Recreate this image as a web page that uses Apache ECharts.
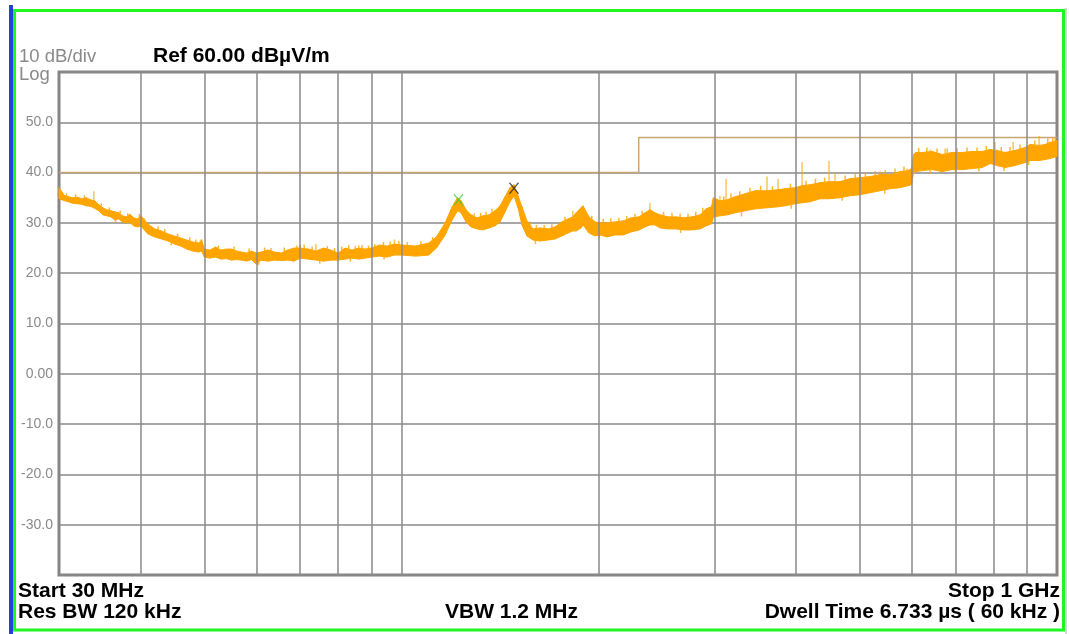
<!DOCTYPE html>
<html>
<head>
<meta charset="utf-8">
<script src="https://cdn.jsdelivr.net/npm/echarts@6/dist/echarts.min.js"></script>
<style>
  html, body { margin: 0; padding: 0; background: #fff; }
  #chart { width: 1069px; height: 634px; }
</style>
</head>
<body>
<div id="chart"></div>
<script>
// sweep points (MHz), with the low / high edge of the noisy band (dBµV/m)
const freqMHz = [
  30, 30.3, 30.6, 31, 31.5, 32, 32.5, 33, 33.5, 34, 34.5, 35, 35.5, 36, 36.5, 37, 37.5, 38, 38.5, 39, 39.5, 40,
  41, 42, 43, 44, 45, 46, 47, 48, 49, 49.5, 50,
  51, 52, 53, 54, 55, 56, 57, 58, 59, 60, 61, 62.5, 64, 65.5, 67, 68.5, 70, 72, 74, 76, 78, 80, 82, 84, 86, 88, 90, 92.5, 95, 97.5, 100,
  105, 110, 113, 116.5, 119.4, 121.7, 123.2, 125.4, 127.6, 130.3, 133.1, 135.9, 138.8, 141.3, 143.8, 146.3, 148.4, 150.5, 152.6, 155.3,
  158.6, 162.6, 167.3, 171.4, 175.6, 179.4, 182.5, 184.6, 187.8, 189.1, 193.1, 197.3, 200.8, 205.8, 211.7, 217.7, 223.9, 230.3, 235.2,
  239.3, 243.6, 247.9, 254.9, 262.2, 269.7, 277.4, 285.3, 291.4, 297, 299,
  306, 314, 322.7, 334.2, 346.2, 361, 375.3, 384.6, 398.4, 408.3, 420, 435, 448.9, 466.5, 483.3, 500.7, 518.7, 537.1, 556.3, 576, 592.5, 600,
  604, 609.3, 622.4, 644.8, 667.8, 691.6, 716.4, 742.1, 768.7, 790.4, 810, 833, 862.9, 894.4, 910, 939, 958.8, 975.9, 1000
];
const traceLow = [
  34.8, 34.6, 34.4, 34.2, 33.9, 33.8, 33.7, 33.4, 33.3, 32.9, 32.4, 31.6, 31.4, 31.2, 30.6, 30.8, 30.2, 30.0, 30.1, 29.4, 29.2, 29.4,
  27.8, 27.2, 26.8, 26.4, 25.8, 25.4, 24.8, 24.4, 24.2, 24.4, 23.2,
  23.0, 23.2, 22.8, 22.9, 22.6, 22.7, 22.6, 22.4, 22.7, 21.8, 22.6, 22.4, 22.6, 22.5, 22.6, 22.4, 23.0, 22.8, 22.6, 22.4, 22.6, 22.6, 22.8, 23.0, 22.8, 23.0, 23.2, 23.4, 23.2, 23.6, 23.6,
  23.4, 23.6, 25.0, 27.6, 30.6, 32.4, 32.0, 30.2, 29.2, 28.8, 28.6, 29.0, 29.4, 30.2, 32.2, 34.2, 35.4, 33.0, 29.6, 27.4,
  26.6, 26.4, 26.6, 26.8, 27.4, 28.0, 28.4, 28.4, 29.0, 29.6, 28.0, 27.4, 27.6, 27.2, 27.6, 27.6, 28.2, 28.6, 29.2,
  29.6, 29.6, 29.0, 28.8, 28.8, 28.6, 28.6, 28.8, 29.4, 29.8, 31.2,
  31.4, 31.6, 32.0, 32.4, 32.8, 33.0, 33.2, 33.4, 33.8, 34.0, 34.2, 34.8, 34.8, 35.0, 35.4, 35.6, 36.0, 36.4, 36.8, 37.0, 37.4, 37.6,
  40.0, 40.2, 40.4, 40.6, 40.2, 40.6, 40.6, 40.8, 41.0, 41.8, 41.4, 41.0, 41.4, 42.0, 42.4, 42.4, 42.6, 42.8, 43.2
];
const traceHigh = [
  37.0, 36.2, 35.4, 35.2, 35.0, 35.1, 34.8, 35.0, 34.6, 34.4, 33.6, 33.0, 32.6, 32.4, 32.2, 32.0, 31.4, 31.2, 31.7, 31.0, 30.8, 31.4,
  29.8, 28.8, 28.4, 27.8, 27.4, 27.0, 26.6, 26.2, 26.0, 26.6, 24.8,
  24.6, 25.2, 24.6, 24.8, 24.8, 24.4, 24.2, 24.0, 24.4, 24.0, 24.2, 24.6, 24.2, 24.0, 24.6, 25.0, 25.0, 24.8, 24.4, 25.0, 24.6, 24.0, 25.0, 24.6, 25.0, 24.8, 25.0, 25.6, 25.4, 25.8, 25.6,
  25.4, 26.0, 27.2, 30.0, 33.2, 35.0, 34.4, 32.6, 31.6, 31.0, 31.4, 31.6, 32.4, 33.4, 35.2, 37.0, 37.6, 35.4, 33.2, 30.4,
  28.8, 29.0, 28.8, 29.2, 30.2, 30.8, 31.2, 32.0, 33.0, 33.4, 31.2, 30.2, 30.0, 30.0, 30.2, 30.4, 31.0, 31.2, 32.0,
  32.6, 32.0, 31.6, 31.2, 31.2, 31.0, 31.2, 31.6, 32.8, 33.2, 35.0,
  34.4, 34.6, 35.2, 35.8, 36.4, 36.4, 36.6, 36.8, 37.0, 37.4, 37.6, 38.0, 38.2, 38.2, 38.8, 39.0, 39.2, 39.6, 39.6, 40.2, 40.4, 40.8,
  43.6, 44.0, 44.0, 44.2, 43.6, 44.0, 44.0, 44.2, 44.2, 44.6, 44.4, 44.0, 44.4, 45.0, 45.6, 45.4, 45.6, 46.0, 46.4
];

// tall narrow spikes standing out of the band
const spikeFreq = [33.9, 49.5, 70, 74, 86, 97.5, 182.5, 239.3, 306, 312.6, 361, 375.3, 408.3, 448.9, 458.5, 500.7, 537.1, 590.5, 640.3, 674.9, 804.4, 857.2, 939, 993.2];
const spikeBase = [34.4, 26.0, 25.0, 24.4, 25.0, 25.8, 31.2, 32.6, 34.4, 34.6, 36.4, 36.6, 37.4, 38.2, 38.2, 39.0, 39.6, 40.4, 44.2, 43.8, 44.4, 44.4, 45.4, 46.4];
const spikeTop = [36.3, 26.8, 25.6, 25.8, 25.6, 26.7, 32.4, 34.0, 35.4, 38.8, 39.2, 38.8, 42.1, 42.3, 40.0, 40.0, 40.2, 40.8, 44.6, 44.8, 46.1, 46.1, 47.3, 46.9];

// short noise ticks on the band edges (from -> to)
const fuzzFreq = [
  30.8, 31.8, 32.8, 34.8, 35.8, 36.6, 37.2, 38.2, 39.8, 40.5, 42.5, 43.5, 44.5, 45.5, 47.5, 48.5,
  52.5, 55.5, 58.5, 60.5, 61.8, 63.2, 66.2, 69.2, 71, 73, 75, 77, 79, 81, 83, 83.5, 85, 87, 89, 91, 93.8, 94, 96, 99,
  102, 107, 111.5, 129, 132, 134.5, 137.3, 157, 160, 160.5, 165, 169.5, 177.5, 195, 200, 203, 208.5, 214.5, 220.5, 227, 232.8,
  251, 258.5, 266, 266.5, 273.5, 281, 288,
  310, 318, 328, 330, 340, 353, 368, 392, 393, 414, 428, 442, 470, 475, 492, 510, 528, 546, 547, 566, 584,
  615, 633, 640, 656, 680, 700, 704, 729, 755, 760, 780, 822, 830, 848, 878, 905, 925, 968, 985
];
const fuzzFrom = [
  35.3, 35.0, 34.9, 33.2, 32.5, 30.8, 31.8, 31.3, 31.0, 30.2, 28.6, 28.1, 26.1, 27.2, 26.4, 26.1,
  24.9, 24.6, 24.2, 22.2, 24.4, 24.4, 24.3, 24.9, 25.0, 24.6, 22.5, 24.8, 24.4, 24.6, 24.8, 22.9, 24.8, 25.0, 24.9, 25.2, 25.5, 23.3, 25.6, 25.7,
  25.5, 25.6, 26.4, 31.2, 31.2, 31.5, 32.0, 29.6, 26.5, 28.9, 28.9, 29.0, 30.5, 30.6, 27.6, 30.0, 30.1, 30.3, 30.7, 31.1, 31.6,
  31.4, 31.2, 31.1, 28.7, 31.1, 31.4, 32.2,
  34.5, 34.9, 35.5, 32.1, 36.1, 36.4, 36.5, 36.9, 33.6, 37.5, 37.8, 38.1, 35.1, 38.5, 38.9, 39.1, 39.4, 36.6, 39.6, 39.9, 40.3,
  44.0, 44.1, 40.5, 43.9, 43.8, 40.6, 44.0, 44.1, 44.2, 40.9, 44.4, 44.2, 41.0, 44.2, 44.7, 42.2, 45.5, 45.8, 46.2
];
const fuzzTo = [
  35.9, 35.7, 35.5, 33.9, 33.1, 30.0, 32.4, 31.9, 31.8, 30.9, 29.3, 28.8, 25.5, 27.9, 27.1, 26.7,
  25.5, 25.3, 24.9, 21.6, 25.1, 25.0, 25.1, 25.5, 25.7, 25.3, 21.9, 25.4, 25.0, 25.3, 25.6, 22.3, 25.4, 25.6, 25.5, 25.8, 26.2, 22.7, 26.3, 26.4,
  26.2, 26.4, 27.2, 31.9, 32.0, 32.2, 32.8, 30.3, 25.8, 29.6, 29.6, 29.8, 31.2, 31.4, 26.9, 30.8, 30.9, 31.0, 31.4, 31.8, 32.4,
  32.2, 32.0, 31.8, 28.0, 31.8, 32.2, 33.0,
  35.3, 35.9, 36.3, 31.3, 37.0, 37.4, 37.3, 37.8, 32.8, 38.4, 38.8, 39.0, 34.4, 39.4, 39.8, 40.0, 40.3, 35.8, 40.5, 40.8, 41.2,
  44.9, 45.0, 39.7, 44.8, 44.8, 39.8, 44.9, 45.0, 45.0, 40.2, 45.3, 45.1, 40.3, 45.1, 45.6, 41.5, 46.4, 46.8, 47.0
];

// limit line
const limitFreq = [30, 230, 230, 1000];
const limitLevel = [40, 40, 47, 47];

// markers
const markerFreq = [122.1, 148.4];
const markerLevel = [34.6, 36.9];

// vertical graticule
const gridFreq = [40, 50, 60, 70, 80, 90, 100, 200, 300, 400, 500, 600, 700, 800, 900];

const orange = '#ffa500';
const font = '"Liberation Sans", Arial, sans-serif';

const chart = echarts.init(document.getElementById('chart'));

const txt = (text, x, y, size, color, bold, align) => ({
  type: 'text',
  x: x,
  y: y,
  silent: true,
  style: {
    text: text,
    fill: color,
    font: (bold ? 'bold ' : '') + size + 'px ' + font,
    textAlign: align || 'left',
    textVerticalAlign: 'middle'
  }
})

// each item is one piece of the band between two sweep points
const bandData = freqMHz.slice(0, -1).map((f, i) =>
  [f, traceLow[i], traceHigh[i], freqMHz[i + 1], traceLow[i + 1], traceHigh[i + 1]])

const spikeData = spikeFreq.map((f, i) => [f, spikeBase[i], spikeTop[i], 0.65])
  .concat(fuzzFreq.map((f, i) => [f, fuzzFrom[i], fuzzTo[i], 0.8]))

chart.setOption({
  animation: false,
  backgroundColor: '#ffffff',
  grid: {
    left: 59, top: 72, right: 12, bottom: 59,
    show: true,
    borderColor: '#858585',
    borderWidth: 3,
    backgroundColor: '#ffffff'
  },
  xAxis: {
    type: 'log',
    logBase: 10,
    min: 30,
    max: 1000,
    axisLine: { show: false },
    axisTick: { show: false },
    axisLabel: { show: false },
    splitLine: { show: false }
  },
  yAxis: {
    type: 'value',
    min: -40,
    max: 60,
    interval: 10,
    axisLine: { show: false },
    axisTick: { show: false },
    axisLabel: {
      color: '#8a8a8a',
      fontSize: 14,
      fontFamily: font,
      margin: 6,
      formatter: v => (v === 60 || v === -40) ? '' : (v === 0 ? '0.00' : v.toFixed(1))
    },
    splitLine: { lineStyle: { color: '#8a8a8a', width: 1.5 } }
  },
  series: [
    {
      name: 'limit',
      type: 'line',
      z: 1,
      symbol: 'none',
      data: limitFreq.map((f, i) => [f, limitLevel[i]]),
      lineStyle: { color: '#c8a674', width: 1.5 },
      markLine: {
        silent: true,
        symbol: 'none',
        label: { show: false },
        lineStyle: { color: '#8a8a8a', width: 1.5, type: 'solid' },
        data: gridFreq.map(f => ({ xAxis: f }))
      }
    },
    {
      name: 'trace',
      type: 'custom',
      z: 3,
      data: bandData,
      encode: { x: [0, 3], y: [1, 2, 4, 5] },
      renderItem: (params, api) => {
        const a = api.coord([api.value(0), api.value(1)])
        const b = api.coord([api.value(0), api.value(2)])
        const c = api.coord([api.value(3), api.value(5)])
        const d = api.coord([api.value(3), api.value(4)])
        return {
          type: 'polygon',
          shape: { points: [a, b, c, d] },
          style: { fill: orange, stroke: orange, lineWidth: 1 }
        }
      }
    },
    {
      name: 'spikes',
      type: 'custom',
      z: 4,
      data: spikeData,
      encode: { x: 0, y: [1, 2] },
      renderItem: (params, api) => {
        const p0 = api.coord([api.value(0), api.value(1)])
        const p1 = api.coord([api.value(0), api.value(2)])
        return {
          type: 'line',
          shape: { x1: p0[0], y1: p0[1], x2: p1[0], y2: p1[1] },
          style: { stroke: orange, lineWidth: 1.5, opacity: api.value(3) }
        }
      }
    },
    {
      name: 'M1',
      type: 'scatter',
      z: 5,
      symbol: 'path://M0,0L10,12M10,0L0,12',
      symbolSize: [9, 11],
      data: [[markerFreq[0], markerLevel[0]]],
      itemStyle: { color: 'none', borderColor: '#3ccf3c', borderWidth: 1.3 }
    },
    {
      name: 'M2',
      type: 'scatter',
      z: 5,
      symbol: 'path://M0,0L10,12M10,0L0,12',
      symbolSize: [9, 11],
      data: [[markerFreq[1], markerLevel[1]]],
      itemStyle: { color: 'none', borderColor: '#222222', borderWidth: 1.3 }
    }
  ],
  graphic: [
    { type: 'rect', silent: true, shape: { x: 9, y: 5, width: 4, height: 629 }, style: { fill: '#1f44d6' } },
    { type: 'rect', silent: true, shape: { x: 1065, y: 8, width: 2, height: 626 }, style: { fill: '#d6d6d6' } },
    { type: 'rect', silent: true, shape: { x: 14.5, y: 10.5, width: 1049, height: 619.5 }, style: { fill: 'none', stroke: '#22f522', lineWidth: 3 } },
    txt('10 dB/div', 19, 57, 18.5, '#8a8a8a', false),
    txt('Log', 19, 75, 18.5, '#8a8a8a', false),
    txt('Ref 60.00 dBµV/m', 153, 56, 21, '#000000', true),
    txt('Start 30 MHz', 18, 591, 21, '#000000', true),
    txt('Res BW 120 kHz', 18, 612, 21, '#000000', true),
    txt('VBW 1.2 MHz', 445, 612, 21, '#000000', true),
    txt('Stop 1 GHz', 1060, 591, 21, '#000000', true, 'right'),
    txt('Dwell Time 6.733 µs ( 60 kHz )', 1060, 612, 21, '#000000', true, 'right')
  ]
})
</script>
</body>
</html>
